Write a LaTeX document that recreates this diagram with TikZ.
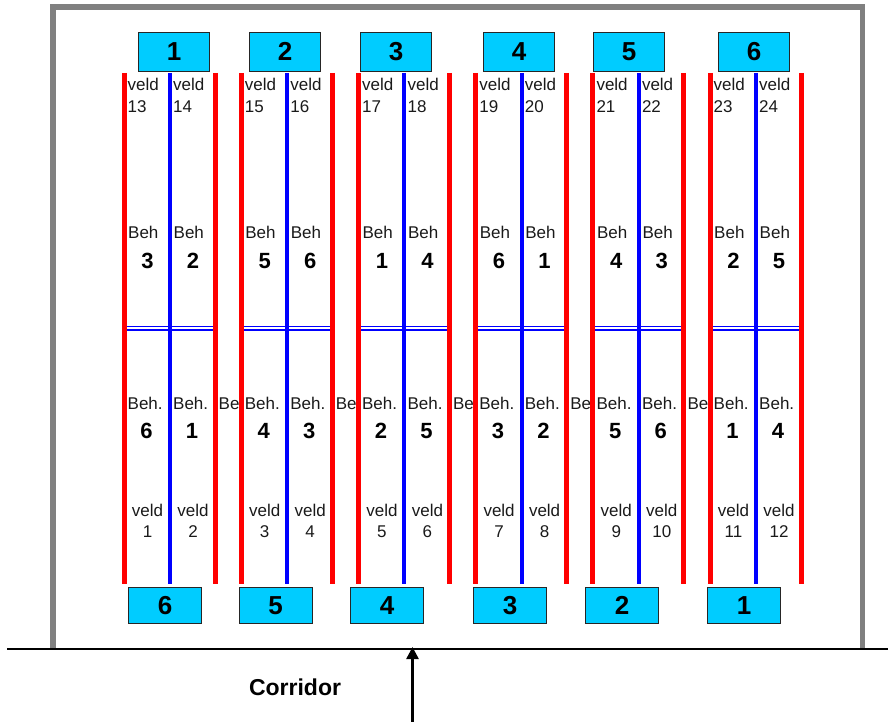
\documentclass[tikz,border=0pt]{standalone}
\usepackage{fontspec}
\setmainfont{Liberation Sans}
\usetikzlibrary{arrows.meta}
\definecolor{boxcyan}{HTML}{00CCFF}
\definecolor{framegray}{HTML}{808080}
\definecolor{inktext}{HTML}{1A1A1A}

\begin{document}
\begin{tikzpicture}[x=1pt,y=-1pt,
  redrail/.style={draw=red, line width=5pt},
  bluerail/.style={draw=blue, line width=4pt},
  crossbar/.style={draw=blue, line width=1.4pt},
  topbox/.style={draw=black!85, fill=boxcyan, line width=1pt,
    minimum width=71pt, minimum height=39pt, inner sep=0pt,
    font=\fontsize{26}{26}\selectfont\bfseries},
  botbox/.style={topbox, minimum width=73pt, minimum height=36pt},
  small/.style={font=\fontsize{17}{17}\selectfont, inner sep=0pt, text=inktext},
  bignum/.style={font=\fontsize{22}{22}\selectfont\bfseries, inner sep=0pt, text=black},
]
\useasboundingbox (0,0) rectangle (888,722);

% room outline and corridor wall
\draw[framegray, line width=5.5pt] (52.8,649) -- (52.8,7) -- (862.5,7) -- (862.5,649);
\draw[black, line width=2.2pt] (7,649) -- (888,649);

% six double beds with their fields and treatment labels
\foreach \k/\ta/\tb/\la/\lb in {1/3/2/6/1, 2/5/6/4/3, 3/1/4/2/5, 4/6/1/3/2, 5/4/3/5/6, 6/2/5/1/4} {
  \pgfmathsetmacro{\xl}{124+117.2*(\k-1)}
  \pgfmathsetmacro{\xb}{\xl+46}
  \pgfmathsetmacro{\xr}{\xl+91}
  \pgfmathsetmacro{\el}{\xl+2.5}
  \pgfmathsetmacro{\eb}{\xb+2}
  \pgfmathtruncatemacro{\vt}{11+2*\k}
  \pgfmathtruncatemacro{\vtt}{\vt+1}
  \pgfmathtruncatemacro{\vb}{2*\k-1}
  \pgfmathtruncatemacro{\vbb}{\vb+1}
  % double cross bar in the middle
  \draw[crossbar] (\xl,326.6) -- (\xr,326.6);
  \draw[crossbar] (\xl,329.8) -- (\xr,329.8);
  % rails
  \draw[redrail] (\xl,73) -- (\xl,584);
  \draw[bluerail] (\xb,73) -- (\xb,584);
  \draw[redrail] (\xr,73) -- (\xr,584);
  % top field numbers
  \node[small, anchor=base west] (vtlA\k) at (\el+1,90.7) {veld};
  \node[small, anchor=base west] (vtlB\k) at (\el+1,112.3) {\vt};
  \node[small, anchor=base west] (vtrA\k) at (\eb+1,90.7) {veld};
  \node[small, anchor=base west] (vtrB\k) at (\eb+1,112.3) {\vtt};
  % upper treatments
  \node[small, anchor=base west] (ubl\k) at (\el+1.5,238.3) {Beh};
  \node[bignum, anchor=base] (unl\k) at (\el+21,268.3) {\ta};
  \node[small, anchor=base west] (ubr\k) at (\eb+1.5,238.3) {Beh};
  \node[bignum, anchor=base] (unr\k) at (\eb+21,268.3) {\tb};
  % lower treatments
  \node[small, anchor=base west] (lbl\k) at (\el+1,409) {Beh.};
  \node[bignum, anchor=base] (lnl\k) at (\el+20,438.3) {\la};
  \node[small, anchor=base west] (lbr\k) at (\eb+1,409) {Beh.};
  \node[bignum, anchor=base] (lnr\k) at (\eb+20,438.3) {\lb};
  % bottom field numbers
  \node[small, anchor=base] (vblA\k) at (\el+21,516.7) {veld};
  \node[small, anchor=base] (vblB\k) at (\el+21,537.7) {\vb};
  \node[small, anchor=base] (vbrA\k) at (\eb+21,516.7) {veld};
  \node[small, anchor=base] (vbrB\k) at (\eb+21,537.7) {\vbb};
}

% cut-off labels between the beds
\foreach \k in {1,...,5} {
  \pgfmathsetmacro{\xr}{124+117.2*(\k-1)+91}
  \node[small, anchor=base west] (cut\k) at (\xr+3.5,409) {Be};
}
% neighbouring rails drawn again over the cut-off labels
\foreach \k in {2,...,6} {
  \pgfmathsetmacro{\xl}{124+117.2*(\k-1)}
  \draw[redrail] (\xl,380) -- (\xl,440);
}

% bed numbers at the top
\foreach \n/\x in {1/174, 2/285, 3/396, 4/519, 5/629, 6/754}
  \node[topbox] (tb\n) at (\x,51.7) {\n};
% bed numbers at the bottom
\foreach \n/\x in {6/165, 5/275.7, 4/387, 3/510, 2/622, 1/744}
  \node[botbox] (bb\n) at (\x,605.7) {\n};

% corridor entrance
\coordinate (door) at (412.5,647);
\coordinate (corr) at (412.5,722);
\draw[black, line width=2.5pt, -{Triangle[length=12pt,width=12pt]}] (corr) -- (door);
\node[font=\fontsize{23}{23}\selectfont\bfseries, inner sep=0pt, anchor=base] (corrlabel) at (295,695.5) {Corridor};
\end{tikzpicture}
\end{document}
